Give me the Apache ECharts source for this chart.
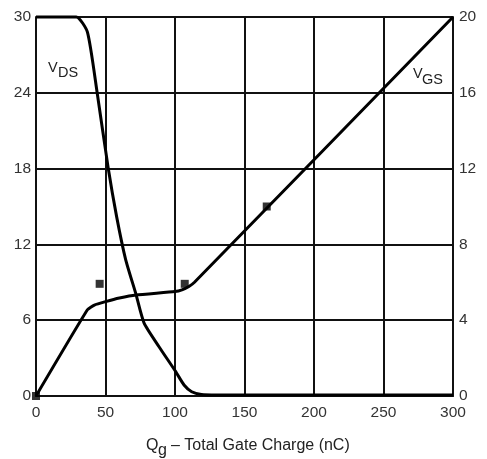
<!DOCTYPE html>
<html>
<head>
<meta charset="utf-8">
<script src="https://cdn.jsdelivr.net/npm/echarts@6/dist/echarts.min.js"></script>
<style>
html,body{margin:0;padding:0;background:#fff;}
#c{width:487px;height:459px;}
</style>
</head>
<body>
<div id="c"></div>
<script>
// Total gate charge (nC) vs drain-source voltage (left axis, V)
const vdsPoints = [
  [0, 30], [29, 30], [37, 28.8], [44, 24], [52, 18], [58, 14.2], [64.5, 10.8],
  [71.7, 8.14], [77.7, 5.79], [88.5, 3.9], [100.5, 1.93], [106.5, 0.87],
  [112, 0.34], [119, 0.12], [130, 0.08], [300, 0.08]
];
// Gate-source voltage (right axis, V)
const vgsPoints = [
  [0, 0], [37, 4.55], [42, 4.8], [50, 4.98], [60, 5.17], [72, 5.33],
  [100, 5.51], [105, 5.6], [110, 5.78], [114, 6.0], [300, 20]
];
// Square markers (right axis)
const markerPoints = [[0, 0], [45.8, 5.92], [107, 5.92], [166, 10]];

const xMin = 0, xMax = 300, xStep = 50;
const leftMin = 0, leftMax = 30, leftStep = 6;
const rightMin = 0, rightMax = 20, rightStep = 4;

const chart = echarts.init(document.getElementById('c'));
const font = 'Liberation Sans, Arial, sans-serif';
const gridColor = '#111';
const labelColor = '#333';

chart.setOption({
  animation: false,
  grid: { left: 36, right: 34, top: 17, bottom: 63, containLabel: false },
  xAxis: {
    type: 'value', min: xMin, max: xMax, interval: xStep,
    axisLine: { show: true, onZero: false, lineStyle: { color: gridColor, width: 2 } },
    axisTick: { show: false },
    splitLine: { show: true, lineStyle: { color: gridColor, width: 2 } },
    axisLabel: { color: labelColor, fontSize: 15.5, fontFamily: font, margin: 9 }
  },
  yAxis: [
    {
      type: 'value', min: leftMin, max: leftMax, interval: leftStep, position: 'left',
      axisLine: { show: true, lineStyle: { color: gridColor, width: 2 } },
      axisTick: { show: false },
      splitLine: { show: true, lineStyle: { color: gridColor, width: 2 } },
      axisLabel: { color: labelColor, fontSize: 15.5, fontFamily: font, margin: 5 }
    },
    {
      type: 'value', min: rightMin, max: rightMax, interval: rightStep, position: 'right',
      axisLine: { show: true, lineStyle: { color: gridColor, width: 2 } },
      axisTick: { show: false },
      splitLine: { show: false },
      axisLabel: { color: labelColor, fontSize: 15.5, fontFamily: font, margin: 6 }
    }
  ],
  series: [
    {
      name: 'VDS', type: 'line', yAxisIndex: 0, data: vdsPoints,
      showSymbol: false, clip: false, smooth: 0.2,
      lineStyle: { color: '#000', width: 3 }
    },
    {
      name: 'VGS', type: 'line', yAxisIndex: 1, data: vgsPoints,
      showSymbol: false, clip: false, smooth: 0.15,
      lineStyle: { color: '#000', width: 3 }
    },
    {
      name: 'markers', type: 'scatter', yAxisIndex: 1, data: markerPoints,
      symbol: 'rect', symbolSize: 8, clip: false,
      itemStyle: { color: '#000' }
    }
  ],
  graphic: [
    { type: 'text', left: 48, top: 60, style: { text: 'V', fontSize: 14.5, fontFamily: font, fill: '#222' } },
    { type: 'text', left: 58, top: 65, style: { text: 'DS', fontSize: 14.5, fontFamily: font, fill: '#222' } },
    { type: 'text', left: 413, top: 66, style: { text: 'V', fontSize: 14.5, fontFamily: font, fill: '#222' } },
    { type: 'text', left: 422, top: 72, style: { text: 'GS', fontSize: 14.5, fontFamily: font, fill: '#222' } },
    { type: 'text', left: 146, top: 438, style: { text: 'Q', fontSize: 16, fontFamily: font, fill: '#222' } },
    { type: 'text', left: 158, top: 443, style: { text: 'g', fontSize: 16, fontFamily: font, fill: '#222' } },
    { type: 'text', left: 171, top: 438, style: { text: '\u2013 Total Gate Charge (nC)', fontSize: 16, fontFamily: font, fill: '#222' } }
  ]
});
</script>
</body>
</html>
